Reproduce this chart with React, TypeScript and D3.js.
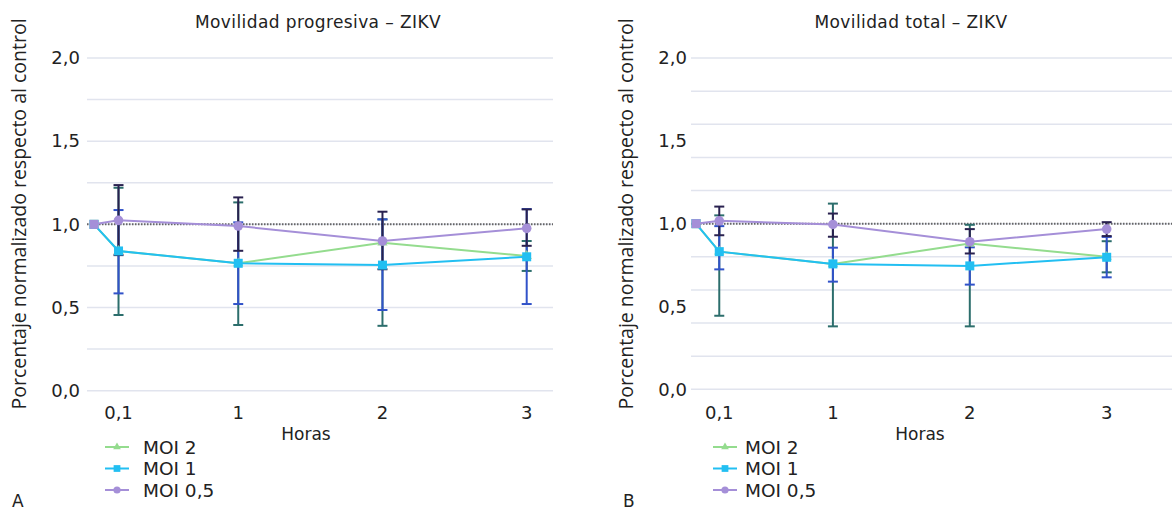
import React from 'react';
import { scaleLinear, line, range, symbol, symbolTriangle } from 'd3';

// hours after infection (first point is the control, 0 h)
const times = [0, 0.17, 1, 2, 3];
const xTickValues = [0.17, 1, 2, 3];
const xTickLabels = ['0,1', '1', '2', '3'];
const yTickValues = [0, 0.5, 1, 1.5, 2];
const yTickLabels = ['0,0', '0,5', '1,0', '1,5', '2,0'];
const seriesNames = ['MOI 2', 'MOI 1', 'MOI 0,5'];

// Movilidad progresiva
const progMoi2 = [1, 0.84, 0.766, 0.89, 0.81];
const progMoi1 = [1, 0.84, 0.766, 0.755, 0.805];
const progMoi05 = [1, 1.024, 0.99, 0.9, 0.976];
const progMoi2Low = [null, 0.455, 0.395, 0.39, 0.72];
const progMoi2High = [null, 1.22, 1.132, 1.03, 0.9];
const progMoi1Low = [null, 0.585, 0.521, 0.485, 0.521];
const progMoi1High = [null, 1.086, 1.012, 1.03, 1.092];
const progMoi05Low = [null, 0.815, 0.841, 0.73, 0.871];
const progMoi05High = [null, 1.236, 1.162, 1.076, 1.09];

// Movilidad total
const totMoi2 = [1, 0.831, 0.757, 0.88, 0.8];
const totMoi1 = [1, 0.831, 0.757, 0.745, 0.797];
const totMoi05 = [1, 1.017, 0.995, 0.891, 0.967];
const totMoi2Low = [null, 0.444, 0.38, 0.38, 0.706];
const totMoi2High = [null, 1.05, 1.121, 0.993, 0.894];
const totMoi1Low = [null, 0.724, 0.65, 0.632, 0.676];
const totMoi1High = [null, 0.985, 0.855, 0.857, 0.92];
const totMoi05Low = [null, 0.93, 0.921, 0.82, 0.925];
const totMoi05High = [null, 1.103, 1.061, 0.967, 1.009];

const lineColors = ['#94dc8e', '#22bff2', '#a58fd8'];
const barColors = ['#2c6e6c', '#3152c9', '#29214f'];
const font = '"DejaVu Sans", Verdana, sans-serif';

const Marker = ({ kind, x, y, color, size = 1 }) => {
  if (kind === 0) {
    return <path d={symbol(symbolTriangle, 45 * size * size)()} transform={`translate(${x},${y})`} fill={color} />;
  }
  if (kind === 1) {
    const h = 4.5 * size;
    return <rect x={x - h} y={y - h} width={2 * h} height={2 * h} fill={color} />;
  }
  return <circle cx={x} cy={y} r={4.8 * size} fill={color} />;
};

const Panel = (props) => {
  const { title, letter, means, lows, highs, gridStep, lay } = props;

  const xScale = scaleLinear().domain([0, 3]).range(lay.xRange);
  const yScale = scaleLinear().domain([0, 2]).range(lay.yRange);
  const gridValues = range(0, 2 + 1e-9, gridStep);

  const lineGen = line()
    .x((d, i) => xScale(times[i]))
    .y(d => yScale(d));

  return (
    <g style={{ fontFamily: font }} fill="#222">
      <text x={lay.titleX} y={28} textAnchor="middle" fontSize={17} letterSpacing={0.4}>{title}</text>
      <text
        transform={`translate(${lay.yTitleX}, ${lay.yTitleY}) rotate(-90)`}
        textAnchor="middle"
        fontSize={19.5}
        style={{ fontFamily: '"Open Sans", sans-serif' }}
      >
        Porcentaje normalizado respecto al control
      </text>

      {gridValues.map(v => (
        <line key={v} x1={lay.gridX[0]} x2={lay.gridX[1]} y1={yScale(v)} y2={yScale(v)} stroke="#e1e4ee" strokeWidth={1.5} />
      ))}
      {yTickValues.map((v, i) => (
        <text key={v} x={lay.yLabelX} y={yScale(v)} dy="0.35em" textAnchor="end" fontSize={18}>
          {yTickLabels[i]}
        </text>
      ))}
      {xTickValues.map((v, i) => (
        <text key={v} x={xScale(v)} y={419} textAnchor="middle" fontSize={18}>
          {xTickLabels[i]}
        </text>
      ))}
      <text x={lay.xTitleX} y={440} textAnchor="middle" fontSize={17}>Horas</text>

      <line
        x1={lay.gridX[0]} x2={lay.gridX[1]}
        y1={yScale(1)} y2={yScale(1)}
        stroke="#666" strokeWidth={2} strokeDasharray="1.5,1.5"
      />

      {means.map((m, s) => (
        <g key={'err' + s}>
          {m.map((v, i) => {
            if (lows[s][i] == null) return null;
            const x = xScale(times[i]);
            const y1 = yScale(lows[s][i]);
            const y2 = yScale(highs[s][i]);
            return (
              <g key={i} stroke={barColors[s]} strokeWidth={2}>
                <line x1={x} x2={x} y1={y1} y2={y2} />
                <line x1={x - 5} x2={x + 5} y1={y1} y2={y1} />
                <line x1={x - 5} x2={x + 5} y1={y2} y2={y2} />
              </g>
            );
          })}
        </g>
      ))}

      {means.map((m, s) => (
        <g key={'ser' + s}>
          <path d={lineGen(m)} fill="none" stroke={lineColors[s]} strokeWidth={2} />
          {m.map((v, i) => (
            <Marker key={i} kind={i === 0 ? 1 : s} x={xScale(times[i])} y={yScale(v)} color={lineColors[s]} />
          ))}
        </g>
      ))}

      {seriesNames.map((name, s) => {
        const y = 447 + s * 21.5;
        return (
          <g key={name}>
            <line x1={lay.legendX} x2={lay.legendX + 24} y1={y} y2={y} stroke={lineColors[s]} strokeWidth={2} />
            <Marker kind={s} x={lay.legendX + 12} y={y} color={lineColors[s]} size={0.75} />
            <text x={lay.legendTextX} y={y} dy="0.36em" fontSize={18.5}>{name}</text>
          </g>
        );
      })}

      <text x={lay.letterX} y={507} fontSize={17}>{letter}</text>
    </g>
  );
};

const leftLayout = {
  xRange: [94, 526.7],
  yRange: [390.7, 58],
  gridX: [87, 553],
  yLabelX: 80,
  yTitleX: 26,
  yTitleY: 214,
  titleX: 318,
  xTitleX: 306,
  legendX: 105,
  legendTextX: 143,
  letterX: 12,
};

const rightLayout = {
  xRange: [696, 1106.7],
  yRange: [389.3, 58],
  gridX: [691, 1172],
  yLabelX: 687,
  yTitleX: 633,
  yTitleY: 214,
  titleX: 911,
  xTitleX: 920,
  legendX: 713,
  legendTextX: 745,
  letterX: 623,
};

export default function App() {
  return (
    <svg width={1172} height={513} style={{ position: 'absolute', left: 0, top: 0, background: '#fff' }}>
      <Panel
        title="Movilidad progresiva – ZIKV"
        letter="A"
        means={[progMoi2, progMoi1, progMoi05]}
        lows={[progMoi2Low, progMoi1Low, progMoi05Low]}
        highs={[progMoi2High, progMoi1High, progMoi05High]}
        gridStep={0.25}
        lay={leftLayout}
      />
      <Panel
        title="Movilidad total – ZIKV"
        letter="B"
        means={[totMoi2, totMoi1, totMoi05]}
        lows={[totMoi2Low, totMoi1Low, totMoi05Low]}
        highs={[totMoi2High, totMoi1High, totMoi05High]}
        gridStep={0.2}
        lay={rightLayout}
      />
    </svg>
  );
}
